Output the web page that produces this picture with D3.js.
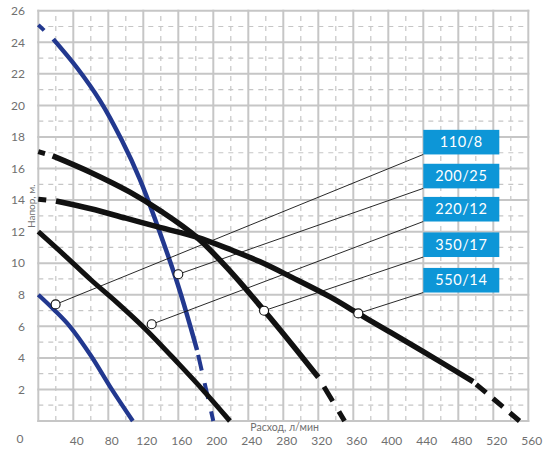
<!DOCTYPE html>
<html><head><meta charset="utf-8">
<script src="https://cdn.jsdelivr.net/npm/d3@7"></script>
<style>
body{margin:0;background:#fff;}
text{font-family:Lato,"Open Sans",sans-serif;}
</style>
</head><body>
<svg id="chart" width="544" height="450"></svg>
<script>
// ---------- data ----------
const xTickValues = [40,80,120,160,200,240,280,320,360,400,440,480,520,560];
const yTickValues = [2,4,6,8,10,12,14,16,18,20,22,24,26];
const models = ["110/8","200/25","220/12","350/17","550/14"];
const xTitle = "Расход, л/мин";
const yTitle = "Напор, м.";

// solid parts of the pump curves [flow, head]
const curve110_8  = [[0,8],[18,7.05],[36,6.0],[60,4.15],[84,2.0],[108,0]];
const curve200_25 = [[17.1,24.2],[44,22.4],[70.5,20.3],[95.3,17.8],[116.2,15.3],[135.3,12.5],[159.7,8.6],[181.4,4.5]];
const curve220_12 = [[0,12],[30,10.5],[60,8.95],[90,7.5],[122,5.85],[160,3.65],[190,1.85],[219,0]];
const curve350_17 = [[16.4,16.8],[60,15.75],[104.8,14.5],[140,13.3],[181,11.65],[220,9.45],[258,7.0],[290,4.85],[320,2.77]];
const curve550_14 = [[20.2,13.94],[60,13.45],[100,12.85],[140,12.25],[181,11.65],[220,10.85],[253,10.1],[290,9.1],[333,7.88],[366,6.8],[400,5.7],[440,4.4],[497,2.49]];

// dashed extensions
const start200_25 = [[0,25.1],[17.1,24.2]];
const end200_25   = [[181.4,4.5],[200,0]];
const start350_17 = [[0,17.07],[16.4,16.8]];
const end350_17   = [[320,2.77],[350,0]];
const start550_14 = [[0,14.05],[20.2,13.94]];
const end550_14   = [[497,2.49],[550,0]];

// marker points (where leader lines end)
const markers = [[19.8,7.39],[160,9.3],[129.6,6.13],[258,6.99],[365.7,6.82]];
// label box anchors (flow, head of box top)
const labelFlow = 440;
const labelHead = [18.45,16.3,14.2,11.95,9.7];

// ---------- drawing ----------
const svg = d3.select("#chart");
const x = d3.scaleLinear().domain([0,560]).range([38.3,528.3]);
const y = d3.scaleLinear().domain([0,26]).range([421,10.7]);

const gridCol = "#c6c6c6";
const g = svg.append("g");

// minor grid
g.selectAll(".mx").data(d3.range(20,560,40)).enter().append("line")
  .attr("x1",d=>x(d)).attr("x2",d=>x(d)).attr("y1",y(0)).attr("y2",y(26))
  .attr("stroke",gridCol).attr("stroke-width",1.2).attr("stroke-dasharray","5,5");
g.selectAll(".my").data(d3.range(1,26,2)).enter().append("line")
  .attr("y1",d=>y(d)).attr("y2",d=>y(d)).attr("x1",x(0)).attr("x2",x(560))
  .attr("stroke",gridCol).attr("stroke-width",1.2).attr("stroke-dasharray","5,5");
// major grid
g.selectAll(".Mx").data([0].concat(xTickValues)).enter().append("line")
  .attr("x1",d=>x(d)).attr("x2",d=>x(d)).attr("y1",y(0)+1).attr("y2",y(26)-1)
  .attr("stroke",gridCol).attr("stroke-width",2);
g.selectAll(".My").data([0].concat(yTickValues)).enter().append("line")
  .attr("y1",d=>y(d)).attr("y2",d=>y(d)).attr("x1",x(0)-1).attr("x2",x(560)+1)
  .attr("stroke",gridCol).attr("stroke-width",2);

// tick labels
const tickCol = "#707070";
svg.selectAll(".xl").data(xTickValues).enter().append("text")
  .attr("x",d=>x(d)+3.5).attr("y",444.5).attr("text-anchor","middle")
  .attr("font-size",12).attr("fill",tickCol).text(d=>d);
svg.selectAll(".yl").data(yTickValues).enter().append("text")
  .attr("x",25).attr("y",d=>y(d)+4.3).attr("text-anchor","end")
  .attr("font-size",12).attr("fill",tickCol).text(d=>d);
svg.append("text").attr("x",20).attr("y",442.5).attr("text-anchor","middle")
  .attr("font-size",12).attr("fill",tickCol).text("0");

// axis titles
svg.append("text").attr("x",x(240)+2).attr("y",430.5)
  .attr("font-size",10.5).attr("fill",tickCol).text(xTitle);
svg.append("text").attr("transform","translate(35,228) rotate(-90)")
  .attr("font-size",10).attr("fill",tickCol).text(yTitle);

// curves
const blue = "#22388f", black = "#111111";
const line = d3.line().x(d=>x(d[0])).y(d=>y(d[1])).curve(d3.curveCatmullRom.alpha(0.5));
const series = [
  {pts:curve110_8, col:blue, w:4.3},
  {pts:curve220_12, col:black, w:5},
  {pts:curve200_25, col:blue, w:4.5},
  {pts:curve350_17, col:black, w:5.5},
  {pts:curve550_14, col:black, w:5.5}
];
const exts = [
  {pts:start200_25, col:blue, w:4, dash:"8 13", off:0},
  {pts:end200_25, col:blue, w:4, dash:"16 13", off:24},
  {pts:start350_17, col:black, w:5, dash:"7 8", off:0},
  {pts:end350_17, col:black, w:5, dash:"17 12", off:18},
  {pts:start550_14, col:black, w:5, dash:"8 10", off:0},
  {pts:end550_14, col:black, w:5, dash:"13 9", off:18}
];
svg.selectAll(".ext").data(exts).enter().append("path")
  .attr("d",d=>line(d.pts)).attr("fill","none").attr("stroke",d=>d.col)
  .attr("stroke-width",d=>d.w).attr("stroke-dasharray",d=>d.dash)
  .attr("stroke-dashoffset",d=>d.off);
svg.selectAll(".crv").data(series).enter().append("path")
  .attr("d",d=>line(d.pts)).attr("fill","none").attr("stroke",d=>d.col)
  .attr("stroke-width",d=>d.w).attr("stroke-linecap","butt");

// labels
const boxW = 76, boxH = 24.6;
const boxCol = "#0d96d7";
models.forEach((m,i)=>{
  const bx = x(labelFlow), by = y(labelHead[i]);
  svg.append("line").attr("x1",x(markers[i][0])).attr("y1",y(markers[i][1]))
    .attr("x2",bx).attr("y2",by+boxH).attr("stroke","#111").attr("stroke-width",0.9);
});
svg.selectAll(".mk").data(markers).enter().append("circle")
  .attr("cx",d=>x(d[0])).attr("cy",d=>y(d[1])).attr("r",4.5)
  .attr("fill","#fff").attr("stroke","#111").attr("stroke-width",1.1);
models.forEach((m,i)=>{
  const bx = x(labelFlow), by = y(labelHead[i]);
  svg.append("rect").attr("x",bx).attr("y",by).attr("width",boxW).attr("height",boxH).attr("fill",boxCol);
  svg.append("text").attr("x",bx+boxW/2).attr("y",by+17.5).attr("text-anchor","middle")
    .attr("font-size",14.5).attr("fill","#fff").attr("letter-spacing",0.6).text(m);
});
</script>
</body></html>
